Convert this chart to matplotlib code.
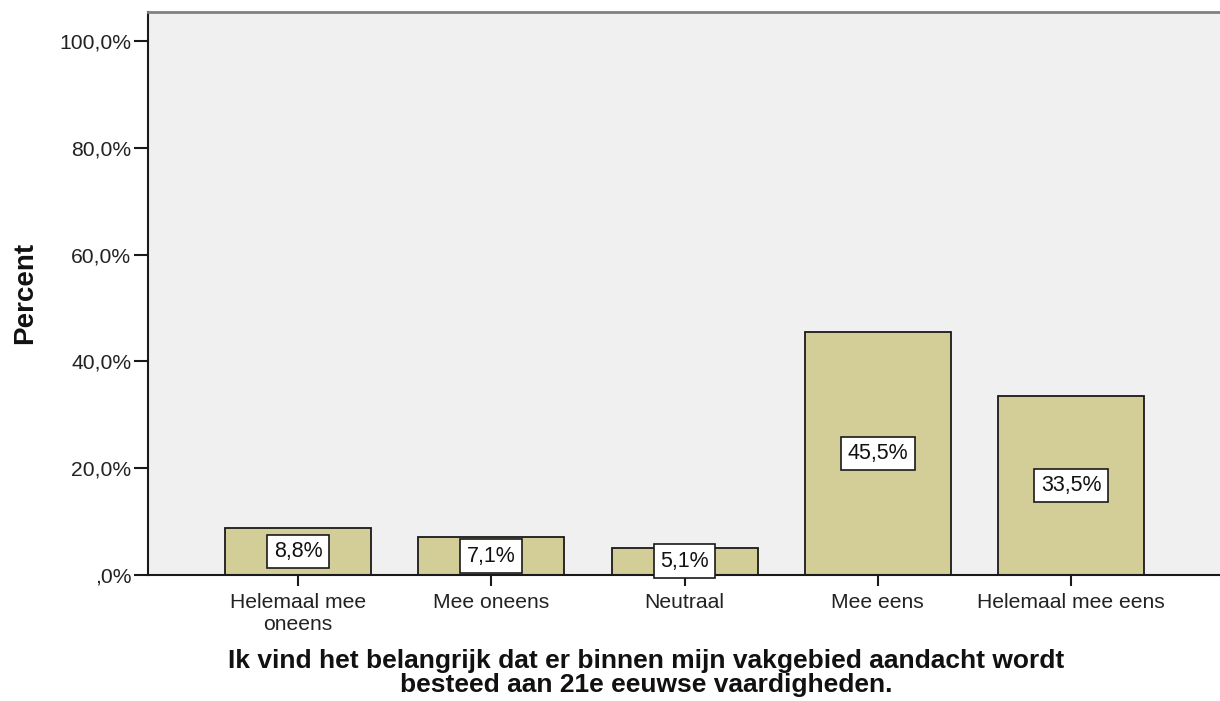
import matplotlib
matplotlib.use("Agg")
import matplotlib.pyplot as plt

plt.rcParams["font.family"] = ["Liberation Sans", "DejaVu Sans"]

categories = ["Helemaal mee\noneens", "Mee oneens", "Neutraal", "Mee eens", "Helemaal mee eens"]
percentages = [8.8, 7.1, 5.1, 45.5, 33.5]
value_labels = ["8,8%", "7,1%", "5,1%", "45,5%", "33,5%"]
y_ticks = [0, 20, 40, 60, 80, 100]
y_tick_labels = [",0%", "20,0%", "40,0%", "60,0%", "80,0%", "100,0%"]

BAR_COLOR = "#d3ce97"
BG_COLOR = "#f0f0f0"

fig = plt.figure(figsize=(12.2, 7.01), dpi=100)
ax = fig.add_axes([148 / 1220, 1 - 575 / 701, (1220 - 148) / 1220, (575 - 12) / 701])
ax.set_facecolor(BG_COLOR)

x = list(range(len(categories)))
ax.bar(x, percentages, width=0.755, color=BAR_COLOR, edgecolor="#1a1a1a", linewidth=1.3, zorder=2)

# waardelabels in wit kader, midden in de staaf
for xi, h, lab in zip(x, percentages, value_labels):
    ax.text(xi, h / 2, lab, ha="center", va="center", fontsize=15.5, color="#111111",
            bbox=dict(boxstyle="square,pad=0.3", facecolor="white", edgecolor="#1a1a1a", linewidth=1.2),
            zorder=3)

ax.set_xlim(-0.776, 4.77)
ax.set_ylim(0, 105.4)
ax.set_yticks(y_ticks)
ax.set_yticklabels(y_tick_labels)
ax.set_xticks(x)
ax.set_xticklabels(categories)

ax.tick_params(axis="y", direction="out", length=10, width=1.5, pad=2, labelsize=15.2,
               labelcolor="#222222", color="#1a1a1a")
ax.tick_params(axis="x", direction="out", length=8, width=1.5, pad=5, labelsize=15.2,
               labelcolor="#222222", color="#1a1a1a")

for side in ["left", "bottom"]:
    ax.spines[side].set_color("#1a1a1a")
    ax.spines[side].set_linewidth(1.5)
ax.spines["top"].set_color("#808080")
ax.spines["top"].set_linewidth(2)
ax.spines["right"].set_visible(False)

fig.text(25 / 1220, 1 - 293 / 701, "Percent", rotation=90, ha="center", va="center",
         fontsize=20, fontweight="bold", color="#111111")
fig.text(646 / 1220, 1 - 673 / 701,
         "Ik vind het belangrijk dat er binnen mijn vakgebied aandacht wordt\nbesteed aan 21e eeuwse vaardigheden.",
         ha="center", va="center", fontsize=19, fontweight="bold", color="#111111", linespacing=1.05)

plt.savefig("out.png", dpi=100)
